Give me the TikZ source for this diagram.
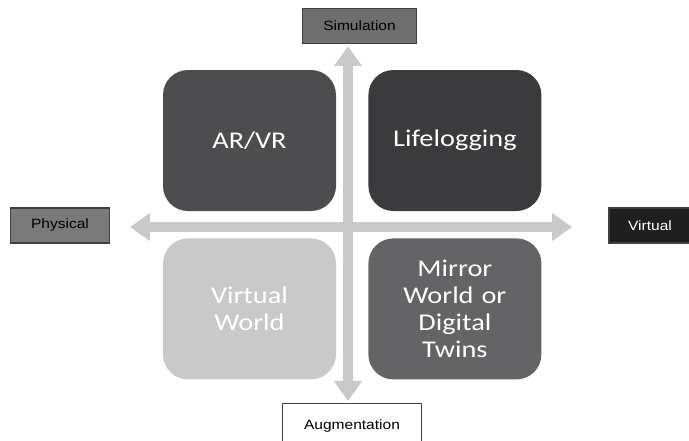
\documentclass[tikz,border=0pt]{standalone}
\usepackage{fontspec}
\usetikzlibrary{arrows.meta, positioning}
\newfontfamily\quadfont[FakeStretch=1.18]{Carlito}
\newfontfamily\axisfont[FakeStretch=1.15]{Liberation Sans}
\definecolor{axisgray}{HTML}{C9C9CA}
\definecolor{quadA}{HTML}{4D4D4F}
\definecolor{quadB}{HTML}{3B3B3D}
\definecolor{quadC}{HTML}{C9C9CA}
\definecolor{quadD}{HTML}{646466}

\begin{document}
\begin{tikzpicture}[
    x=1pt, y=-1pt,
    node distance=32pt and 32pt,
    quad/.style={rectangle, rounded corners=25pt, minimum width=173pt, minimum height=141pt, text width=150pt, align=center, text=white, font=\quadfont\fontsize{24}{27}\selectfont},
    axislabel/.style={rectangle, draw=black!75, line width=1.2pt, inner sep=0pt, minimum height=35pt, font=\axisfont\fontsize{13.5}{15}\selectfont},
    axis/.style={draw=axisgray, line width=10pt, {Triangle[width=27pt,length=20pt]}-{Triangle[width=27pt,length=20pt]}}
]
\useasboundingbox (0,0) rectangle (689,440);

\node[quad, fill=quadA] (arvr) at (249.5,140.5) {AR/VR};
\node[quad, fill=quadB, right=of arvr] (life) {Lifelogging};
\node[quad, fill=quadC, below=27pt of arvr] (vworld) {Virtual\\World};
\node[quad, fill=quadD, below=27pt of life] (mirror) {Mirror\\World or\\Digital\\Twins};

\node[axislabel, fill=black!57, minimum width=114pt] (sim) at (359.5,26) {Simulation};
\node[axislabel, fill=black!52, minimum width=99pt] (phys) at (60,225.5) {Physical};
\node[axislabel, fill=black!88, text=white, minimum width=82pt] (virt) at (650,225.5) {Virtual};
\node[axislabel, fill=white, minimum width=139pt, minimum height=46pt] (aug) at (352,426.5) {Augmentation};

\coordinate (west) at (130,227);
\coordinate (east) at (572,227);

\draw[axis] (west) -- (east);
\draw[axis, shorten <=2pt, shorten >=2pt] (sim.south -| 348,0) -- (aug.north -| 348,0);

\end{tikzpicture}
\end{document}
